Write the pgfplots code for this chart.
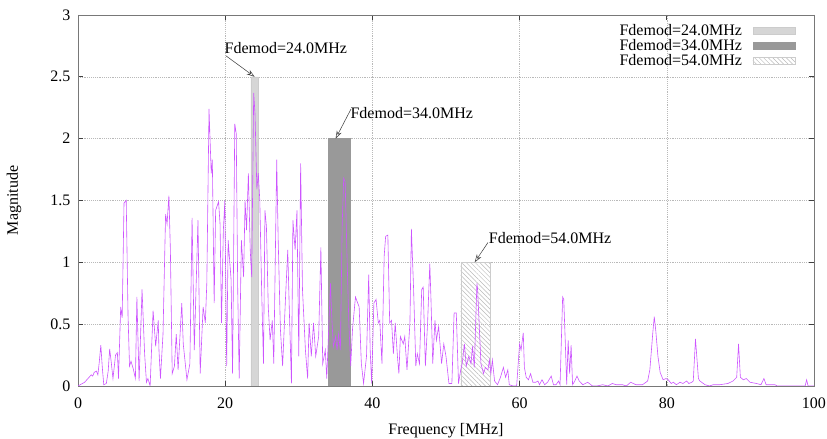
\documentclass[12pt,border=0pt]{standalone}
\usepackage{fontspec}
\setmainfont{Liberation Serif}
\usepackage{pgfplots}
\pgfplotsset{compat=1.18}
\usetikzlibrary{patterns.meta,arrows.meta}

\definecolor{spec}{RGB}{205,85,255}
\definecolor{frame}{RGB}{120,120,120}

\begin{document}
\begin{tikzpicture}
\begin{axis}[
    scale only axis,
    width=552pt, height=278.25pt,
    xmin=0, xmax=100, ymin=0, ymax=3,
    xtick={0,20,...,100},
    ytick={0,0.5,...,3},
    /pgf/number format/assume math mode=true,
    xlabel={Frequency [MHz]},
    ylabel={Magnitude},
    xlabel style={at={(axis description cs:0.5,-0.121)}, anchor=center},
    ylabel style={at={(axis description cs:-0.087,0.5)}, anchor=center},
    xticklabel style={yshift=-4.5pt},
    yticklabel style={xshift=-1.5pt},
    axis line style={frame, line width=0.6pt},
    tick style={black!75, line width=0.5pt},
    major tick length=4pt,
    tick align=inside,
    grid=major,
    grid style={gray!55, densely dotted, line width=0.4pt},
    legend plot pos=right,
    legend cell align=right,
    legend style={at={(0.9755,0.978)}, anchor=north east, draw=none, fill=none,
        inner sep=0pt, row sep=0pt, column sep=7.5pt,
        nodes={inner sep=0.5pt, text height=8.25pt, text depth=2pt}},
    legend image code/.code={\draw[#1] (0pt,-2.6pt) rectangle (32pt,2.6pt);},
]
% demodulation bands
\addplot[fill=gray!32, draw=gray!40, line width=0.3pt] coordinates
  {(23.5,0) (23.5,2.5) (24.5,2.5) (24.5,0)} \closedcycle;
\addlegendentry{Fdemod=24.0MHz}
\addplot[fill=gray!80, draw=gray!80, line width=0.3pt] coordinates
  {(34,0) (34,2) (37,2) (37,0)} \closedcycle;
\addlegendentry{Fdemod=34.0MHz}
\addplot[pattern={Lines[angle=-45,distance=2.4pt,line width=0.35pt]}, pattern color=gray!55,
  draw=gray!40, line width=0.3pt] coordinates
  {(52,0) (52,1) (56,1) (56,0)} \closedcycle;
\addlegendentry{Fdemod=54.0MHz}

% spectrum
\addplot[spec, line width=0.45pt, forget plot] coordinates {
(0.0,0.0) (0.3,0.01) (0.6,0.02) (0.9,0.03) (1.2,0.05) (1.5,0.07) (1.8,0.09)
(2.0,0.08) (2.2,0.11) (2.5,0.12) (2.7,0.09) (2.9,0.20) (3.1,0.33) (3.3,0.15)
(3.5,0.01) (3.85,0.02) (4.1,0.12) (4.3,0.30) (4.5,0.20) (4.75,0.06) (5.1,0.25)
(5.35,0.27) (5.5,0.06) (5.8,0.64) (6.0,0.55) (6.25,1.48) (6.55,1.50) (6.8,0.56)
(7.0,0.16) (7.2,0.20) (7.5,0.14) (7.8,0.06) (8.0,0.72) (8.3,0.04) (8.7,0.78)
(9.05,0.26) (9.3,0.03) (9.5,0.06) (9.8,0.0) (10.2,0.61) (10.4,0.45) (10.55,0.32)
(10.9,0.53) (11.0,0.29) (11.2,0.06) (11.55,0.42) (11.9,1.39) (12.1,1.31)
(12.35,1.54) (12.55,1.10) (12.8,0.10) (13.1,0.16) (13.35,0.42) (13.6,0.13)
(14.1,0.67) (14.3,0.34) (14.8,0.05) (15.2,0.18) (15.5,1.36) (15.8,0.29)
(16.3,1.34) (16.6,0.10) (17.0,0.64) (17.3,0.51) (17.5,0.83) (17.8,2.24)
(18.1,1.72) (18.25,1.83) (18.5,0.67) (18.7,1.42) (19.1,1.49) (19.3,1.31)
(19.5,0.51) (19.75,1.26) (19.95,1.50) (20.2,0.16) (20.4,1.18) (20.8,0.86)
(21.0,0.10) (21.3,2.12) (21.5,2.04) (21.7,0.78) (21.9,0.06) (22.2,1.18)
(22.5,0.88) (22.7,1.50) (22.9,1.26) (23.15,1.72) (23.4,1.10) (23.6,0.88)
(23.87,2.37) (24.05,2.20) (24.3,1.59) (24.5,1.72) (24.7,1.50) (24.95,0.78)
(25.2,0.18) (25.4,1.42) (25.6,1.29) (25.85,0.64) (26.1,0.37) (26.4,0.53)
(26.6,0.18) (27.0,1.83) (27.2,1.18) (27.5,0.46) (27.8,0.16) (28.2,0.72)
(28.5,1.10) (28.7,0.64) (29.0,0.02) (29.2,1.34) (29.5,1.10) (29.75,1.42)
(30.0,0.24) (30.25,1.80) (30.5,0.78) (30.9,0.29) (31.2,0.06) (31.4,0.51)
(31.7,0.24) (32.0,0.51) (32.3,0.24) (32.7,0.40) (33.0,1.12) (33.25,0.18)
(33.6,0.29) (33.8,0.06) (34.3,0.83) (34.5,0.53) (34.7,0.32) (35.0,0.40)
(35.2,0.29) (35.4,0.42) (35.65,0.29) (35.9,1.31) (36.1,1.68) (36.3,1.65)
(36.55,1.05) (36.8,0.51) (37.05,0.16) (37.3,0.46) (37.7,0.72) (38.0,0.67)
(38.2,0.64) (38.5,0.18) (38.8,0.02) (39.2,0.24) (39.5,0.90) (39.7,0.29)
(39.9,0.02) (40.2,0.67) (40.5,0.70) (40.8,0.51) (41.0,0.53) (41.3,0.18)
(41.6,1.05) (41.8,1.21) (42.1,1.22) (42.35,0.51) (42.6,0.53) (42.85,0.26)
(43.1,0.51) (43.4,0.24) (43.6,0.10) (43.8,0.40) (44.2,0.34) (44.4,0.40)
(44.7,0.13) (45.1,0.51) (45.3,1.27) (45.6,0.78) (45.9,0.16) (46.1,0.26)
(46.4,0.18) (46.7,0.78) (46.9,0.80) (47.2,0.16) (47.5,0.51) (47.8,0.99)
(47.95,0.72) (48.2,0.18) (48.5,0.53) (48.7,0.37) (49.0,0.48) (49.4,0.18)
(49.7,0.34) (50.0,0.24) (50.4,0.02) (50.8,0.02) (51.1,0.59) (51.4,0.59)
(51.7,0.02) (52.0,0.13) (52.2,0.18) (52.5,0.34) (52.75,0.16) (53.1,0.24)
(53.4,0.18) (53.6,0.32) (53.85,0.15) (54.2,0.83) (54.3,0.78) (54.5,0.51)
(54.75,0.18) (55.1,0.10) (55.35,0.15) (55.7,0.13) (55.9,0.21) (56.1,0.10)
(56.3,0.21) (56.6,0.04) (57.0,0.01) (57.4,0.07) (57.8,0.15) (58.1,0.07)
(58.4,0.13) (58.6,0.01) (59.1,0.0) (59.6,0.0) (60.0,0.34) (60.2,0.29)
(60.5,0.43) (60.65,0.15) (60.9,0.07) (61.2,0.05) (61.5,0.10) (61.8,0.03)
(62.2,0.03) (62.5,0.04) (62.7,0.01) (63.05,0.05) (63.4,0.01) (63.8,0.03)
(64.3,0.08) (64.6,0.01) (64.95,0.01) (65.3,0.04) (65.5,0.01) (65.85,0.72)
(66.0,0.70) (66.2,0.37) (66.4,0.01) (66.6,0.37) (66.8,0.10) (67.0,0.33)
(67.2,0.01) (67.5,0.04) (67.8,0.08) (68.1,0.04) (68.6,0.01) (69.25,0.03)
(69.9,0.0) (70.5,0.0) (71.3,0.01) (72.0,0.0) (72.6,0.02) (73.1,0.01)
(74.0,0.01) (74.5,0.0) (75.1,0.03) (75.8,0.01) (76.7,0.01) (77.4,0.04)
(77.7,0.13) (78.1,0.43) (78.3,0.56) (78.5,0.45) (78.8,0.24) (79.1,0.11)
(79.5,0.05) (79.9,0.06) (80.2,0.05) (80.6,0.02) (80.9,0.03) (81.3,0.01)
(81.8,0.03) (82.2,0.02) (82.7,0.04) (83.0,0.02) (83.4,0.03) (83.6,0.04)
(83.9,0.38) (84.3,0.06) (84.5,0.04) (85.2,0.01) (85.8,0.0) (86.3,0.01)
(87.2,0.01) (88.3,0.02) (89.0,0.04) (89.5,0.07) (89.75,0.34) (90.0,0.07)
(90.4,0.05) (90.8,0.06) (91.3,0.03) (92.2,0.02) (92.8,0.01) (93.2,0.06)
(93.5,0.01) (94.0,0.01) (94.7,0.01) (95.0,0.0) (98.8,0.0) (99.0,0.05)
(99.2,0.0) (100,0.0)
};

% annotations
\draw[black!75, line width=0.4pt, -{Stealth[open, length=6pt, width=4pt]}]
  (axis cs:20.1,2.67) -- (axis cs:24.0,2.5);
\node[anchor=west, inner sep=0pt] at (axis cs:19.9,2.73) {Fdemod=24.0MHz};
\draw[black!75, line width=0.4pt, -{Stealth[open, length=6pt, width=4pt]}]
  (axis cs:37.1,2.24) -- (axis cs:35.0,2.0);
\node[anchor=west, inner sep=0pt] at (axis cs:37.0,2.21) {Fdemod=34.0MHz};
\draw[black!75, line width=0.4pt, -{Stealth[open, length=6pt, width=4pt]}]
  (axis cs:55.7,1.16) -- (axis cs:53.9,1.0);
\node[anchor=west, inner sep=0pt] at (axis cs:55.8,1.20) {Fdemod=54.0MHz};

\coordinate (bbsw) at (rel axis cs:-0.106,-0.1429);
\coordinate (bbne) at (rel axis cs:1.0177,1.0404);
\end{axis}
\pgfresetboundingbox
\path (bbsw) rectangle (bbne);
\end{tikzpicture}
\end{document}
